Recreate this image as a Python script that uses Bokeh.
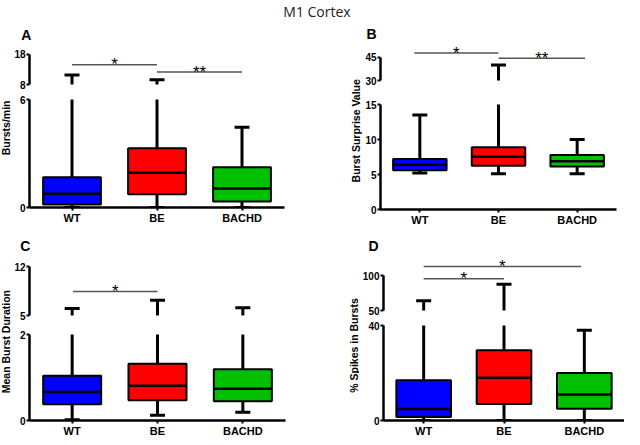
import math
from bokeh.plotting import figure
from bokeh.models import Range1d, FixedTicker, Div
from bokeh.layouts import row, column
from bokeh.embed import file_html
from bokeh.resources import INLINE
from bokeh.core.properties import value

# ---------------- data ----------------
groups = ["WT", "BE", "BACHD"]
xpos = [0.5, 1.5, 2.5]
box_colors = ["#0000FF", "#FF0000", "#00C000"]

# Panel A - Bursts/min
a_min = [0.0, 0.0, 0.0]
a_q1 = [0.16, 0.74, 0.33]
a_med = [0.76, 1.93, 1.05]
a_q3 = [1.68, 3.29, 2.23]
a_max = [11.1, 9.6, 4.46]
a_low_ticks = [0, 6]
a_high_ticks = [8, 18]
a_sig_x0 = [0.5, 1.5]
a_sig_x1 = [1.5, 2.5]
a_sig_y = [14.5, 12.1]
a_sig_txt = ["*", "**"]

# Panel B - Burst Surprise Value
b_min = [5.2, 5.1, 5.1]
b_q1 = [5.6, 6.25, 6.15]
b_med = [6.4, 7.55, 6.9]
b_q3 = [7.2, 8.9, 7.8]
b_max = [13.5, 40.0, 10.0]
b_low_ticks = [0, 5, 10, 15]
b_high_ticks = [30, 45]
b_sig_x0 = [0.43, 1.5]
b_sig_x1 = [1.5, 2.6]
b_sig_y = [47.8, 44.4]
b_sig_txt = ["*", "**"]

# Panel C - Mean Burst Duration
c_min = [0.02, 0.12, 0.19]
c_q1 = [0.38, 0.47, 0.45]
c_med = [0.66, 0.81, 0.74]
c_q3 = [1.04, 1.32, 1.19]
c_max = [6.0, 7.2, 6.1]
c_low_ticks = [0, 2]
c_high_ticks = [5, 12]
c_sig_x0 = [0.51]
c_sig_x1 = [1.5]
c_sig_y = [8.44]
c_sig_txt = ["*"]

# Panel D - % Spikes in Bursts
d_min = [0.0, 0.0, 0.0]
d_q1 = [1.5, 7.0, 4.9]
d_med = [4.8, 18.0, 11.0]
d_q3 = [17.0, 29.6, 20.0]
d_max = [64.0, 87.5, 38.0]
d_low_ticks = [0, 40]
d_high_ticks = [50, 100]
d_sig_x0 = [0.5, 0.5]
d_sig_x1 = [1.5, 2.46]
d_sig_y = [95.3, 112.9]
d_sig_txt = ["*", "*"]

BOX_W = 0.68
FONT = "Liberation Sans"
COL_W = 312


def style_y(ax, ticks, bounds=None):
    ax.ticker = FixedTicker(ticks=ticks)
    ax.minor_tick_line_color = None
    ax.axis_line_width = 2.5
    ax.axis_line_color = "black"
    ax.major_tick_line_width = 2
    ax.major_tick_out = 3
    ax.major_tick_in = 0
    ax.major_label_standoff = 1
    ax.major_label_text_font = FONT
    ax.major_label_text_font_style = "bold"
    ax.major_label_text_font_size = "10px"
    ax.major_label_text_color = "black"
    if bounds is not None:
        ax.bounds = bounds


def draw_whiskers(p, mn, q3, q1, mx):
    p.segment(x0=xpos, y0=q3, x1=xpos, y1=mx, line_color="black", line_width=3)
    p.segment(x0=xpos, y0=q1, x1=xpos, y1=mn, line_color="black", line_width=3)
    p.scatter(x=xpos, y=mx, marker="dash", size=15, line_color="black", line_width=3)
    p.scatter(x=xpos, y=mn, marker="dash", size=15, line_color="black", line_width=3)


def draw_boxes(p, q1, med, q3):
    p.vbar(x=xpos, width=BOX_W, bottom=q1, top=q3, fill_color=box_colors,
           line_color="black", line_width=2)
    p.segment(x0=[x - BOX_W / 2 for x in xpos], y0=med,
              x1=[x + BOX_W / 2 for x in xpos], y1=med,
              line_color="black", line_width=2.5)


def plain(p):
    p.outline_line_color = None
    p.grid.visible = False
    p.background_fill_color = "white"
    p.border_fill_color = "white"


def make_panel(stats, low_ticks, high_ticks, sig, ylabel, letter, g):
    mn, q1, med, q3, mx = stats
    sx0, sx1, sy, stxt = sig
    xr = Range1d(0, 3)
    pw = g["bl"] + g["fw"] + g["br"]

    top = figure(width=pw, height=g["th"] + g["tb"], x_range=xr,
                 y_range=Range1d(high_ticks[0], g["tend"]),
                 output_backend="svg", toolbar_location=None,
                 x_axis_location=None, y_axis_location="left",
                 min_border_left=g["bl"], min_border_right=g["br"],
                 min_border_top=0, min_border_bottom=g["tb"])
    bot = figure(width=pw, height=7 + g["bh"] + 17, x_range=xr,
                 y_range=Range1d(low_ticks[0], low_ticks[-1]),
                 output_backend="svg", toolbar_location=None,
                 x_axis_location="below", y_axis_location="left",
                 min_border_left=g["bl"], min_border_right=g["br"],
                 min_border_top=7, min_border_bottom=17)
    plain(top)
    plain(bot)
    draw_whiskers(top, mn, q3, q1, mx)
    draw_whiskers(bot, mn, q3, q1, mx)
    draw_boxes(bot, q1, med, q3)

    style_y(top.yaxis[0], high_ticks, (high_ticks[0], high_ticks[-1]))
    style_y(bot.yaxis[0], low_ticks)

    xa = bot.xaxis[0]
    xa.ticker = FixedTicker(ticks=xpos)
    xa.major_label_overrides = {x: g_ for x, g_ in zip(xpos, groups)}
    xa.minor_tick_line_color = None
    xa.axis_line_width = 2.5
    xa.major_tick_line_width = 2
    xa.major_tick_out = 3
    xa.major_tick_in = 0
    xa.major_label_standoff = 1
    xa.major_label_text_font = FONT
    xa.major_label_text_font_style = "bold"
    xa.major_label_text_font_size = "11px"
    xa.major_label_text_color = "black"

    # significance bars
    top.segment(x0=sx0, y0=sy, x1=sx1, y1=sy, line_color="#555555", line_width=1.5)
    top.text(x=[(a + b) / 2 for a, b in zip(sx0, sx1)], y=sy, text=stxt,
             text_align="center", text_baseline="middle",
             text_font=value(FONT), text_font_size="17px",
             text_color="black", y_offset=0)

    # panel letter
    hl = g["hl"]
    lf = figure(width=COL_W, height=hl, x_range=Range1d(0, COL_W),
                y_range=Range1d(0, hl), output_backend="svg",
                toolbar_location=None, x_axis_location=None,
                y_axis_location=None, min_border=0)
    plain(lf)
    lf.text(x=[g["lx"]], y=[g["ly"]], text=[letter], text_align="center",
            text_baseline="middle", text_font=value(FONT),
            text_font_style="bold", text_font_size="14px", text_color="black")

    # y-axis title strip
    H = g["th"] + g["tb"] + 7 + g["bh"] + 17
    strip = figure(width=g["sw"], height=H, x_range=Range1d(0, g["sw"]),
                   y_range=Range1d(0, H), output_backend="svg",
                   toolbar_location=None, x_axis_location=None,
                   y_axis_location=None, min_border=0)
    plain(strip)
    strip.text(x=[g["cx"]], y=[g["cy"]], text=[ylabel], angle=math.pi / 2,
               text_align="center", text_baseline="middle",
               text_font=value(FONT), text_font_style="bold",
               text_font_size="10.5px", text_color="black")
    return column(lf, row(strip, column(top, bot)))


gA = dict(hl=20, sw=11, bl=16, fw=257, br=28, th=41, tb=8, bh=110, tend=21.49,
          lx=25.9, ly=8.5, cx=5.5, cy=98.6)
gB = dict(hl=19, sw=50, bl=16, fw=238, br=8, th=38, tb=17, bh=107, tend=54.68,
          lx=59.1, ly=8.5, cx=43, cy=97.7)
gC = dict(hl=26, sw=11, bl=16, fw=258, br=27, th=61, tb=12, bh=88, tend=13.77,
          lx=24.9, ly=8.5, cx=5.5, cy=97.9)
gD = dict(hl=26, sw=47, bl=21, fw=244, br=0, th=56, tb=8, bh=97, tend=130.0,
          lx=61, ly=8.5, cx=41, cy=94)

pA = make_panel((a_min, a_q1, a_med, a_q3, a_max), a_low_ticks, a_high_ticks,
                (a_sig_x0, a_sig_x1, a_sig_y, a_sig_txt), "Bursts/min", "A", gA)
pB = make_panel((b_min, b_q1, b_med, b_q3, b_max), b_low_ticks, b_high_ticks,
                (b_sig_x0, b_sig_x1, b_sig_y, b_sig_txt), "Burst Surprise Value", "B", gB)
pC = make_panel((c_min, c_q1, c_med, c_q3, c_max), c_low_ticks, c_high_ticks,
                (c_sig_x0, c_sig_x1, c_sig_y, c_sig_txt), "Mean Burst Duration", "C", gC)
pD = make_panel((d_min, d_q1, d_med, d_q3, d_max), d_low_ticks, d_high_ticks,
                (d_sig_x0, d_sig_x1, d_sig_y, d_sig_txt), "% Spikes in Bursts", "D", gD)

title = Div(text="M1 Cortex", width=624, height=13,
            styles={"text-align": "center", "font-family": "Open Sans",
                    "font-size": "14px", "line-height": "13px", "color": "#222"})

layout = column(title, row(pA, pB), row(pC, pD))

open("out.html", "w").write(file_html(layout, INLINE))
